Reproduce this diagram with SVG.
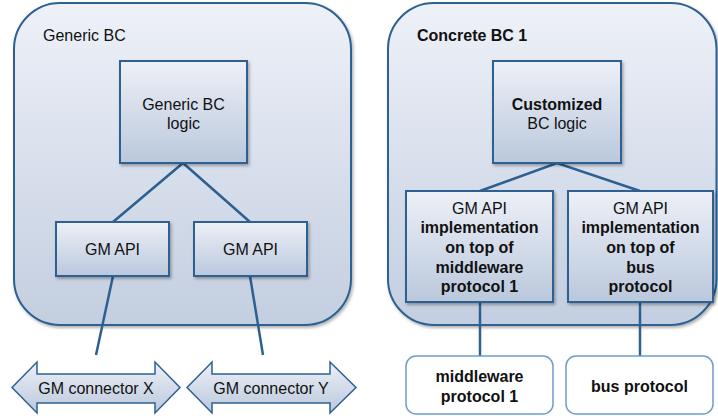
<svg xmlns="http://www.w3.org/2000/svg" width="718" height="416" viewBox="0 0 718 416">
<defs>
<linearGradient id="gc" x1="0" y1="0" x2="0" y2="1"><stop offset="0" stop-color="#eef1f8"/><stop offset="1" stop-color="#c3cee0"/></linearGradient>
<linearGradient id="gb" x1="0" y1="0" x2="0" y2="1"><stop offset="0" stop-color="#edf0f7"/><stop offset="1" stop-color="#bac8dc"/></linearGradient>
<filter id="sh" x="-10%" y="-10%" width="130%" height="130%"><feDropShadow dx="1.5" dy="2" stdDeviation="1.5" flood-color="#000" flood-opacity="0.3"/></filter>
</defs>
<style>
.cont{fill:url(#gc);stroke:#2d6091;stroke-width:2;filter:url(#sh)}
.box{fill:url(#gb);stroke:#2d6091;stroke-width:2;filter:url(#sh)}
.arr{fill:url(#gb);stroke:#2d6091;stroke-width:1.5}
.ext{fill:#fff;stroke:#6f9ccc;stroke-width:1.5}
.ln{stroke:#2d6091;stroke-width:2.5;fill:none}
text{font-family:"Liberation Sans",Arial,sans-serif;font-size:16px;fill:#111;text-anchor:middle}
.b{font-weight:bold}
.l{text-anchor:start}
</style>
<g id="generic-bc">
<rect class="cont" x="14" y="3" width="337" height="322" rx="46"/>
<text class="l" x="43" y="41">Generic BC</text>
</g>
<g id="concrete-bc">
<rect class="cont" x="388" y="3" width="328.5" height="322" rx="46"/>
<text class="l b" x="417" y="41">Concrete BC 1</text>
</g>
<g id="connectors">
<polyline class="ln" points="113,222 183,163 250,222"/>
<line class="ln" x1="113" y1="276" x2="96" y2="355"/>
<line class="ln" x1="250" y1="276" x2="263" y2="355"/>
<polyline class="ln" points="480,191 557,163 640,191"/>
<line class="ln" x1="480" y1="302" x2="480" y2="356"/>
<line class="ln" x1="640" y1="302" x2="640" y2="356"/>
</g>
<g id="generic-logic">
<rect class="box" x="120" y="61" width="127" height="102"/>
<text x="183.5" y="110">Generic BC</text>
<text x="183.5" y="129">logic</text>
</g>
<g id="gm-api-1">
<rect class="box" x="56" y="222" width="113" height="54"/>
<text x="112.5" y="255">GM API</text>
</g>
<g id="gm-api-2">
<rect class="box" x="194" y="222" width="113" height="54"/>
<text x="250.5" y="255">GM API</text>
</g>
<g id="connector-x">
<polygon class="arr" points="12,387.5 37,362 37,374 155,374 155,362 180,387.5 155,413 155,403 37,403 37,413"/>
<text x="96" y="394">GM connector X</text>
</g>
<g id="connector-y">
<polygon class="arr" points="187,387.5 212,362 212,374 330,374 330,362 356,387.5 330,413 330,403 212,403 212,413"/>
<text x="271" y="394">GM connector Y</text>
</g>
<g id="custom-logic">
<rect class="box" x="493" y="61" width="128" height="102"/>
<text class="b" x="557" y="110">Customized</text>
<text x="557" y="129">BC logic</text>
</g>
<g id="impl-mw">
<rect class="box" x="406" y="191" width="147" height="111"/>
<text x="479.5" y="214">GM API</text>
<text class="b" x="479.5" y="233">implementation</text>
<text class="b" x="479.5" y="253">on top of</text>
<text class="b" x="479.5" y="272.5">middleware</text>
<text class="b" x="479.5" y="292">protocol 1</text>
</g>
<g id="impl-bus">
<rect class="box" x="568" y="191" width="145" height="111"/>
<text x="640.5" y="214">GM API</text>
<text class="b" x="640.5" y="233">implementation</text>
<text class="b" x="640.5" y="253">on top of</text>
<text class="b" x="640.5" y="272.5">bus</text>
<text class="b" x="640.5" y="292">protocol</text>
</g>
<g id="mw-protocol">
<rect class="ext" x="406" y="356" width="147" height="58" rx="10"/>
<text class="b" x="479.5" y="382">middleware</text>
<text class="b" x="479.5" y="401.5">protocol 1</text>
</g>
<g id="bus-protocol">
<rect class="ext" x="566" y="356" width="147" height="58" rx="10"/>
<text class="b" x="639.5" y="392">bus protocol</text>
</g>
</svg>
